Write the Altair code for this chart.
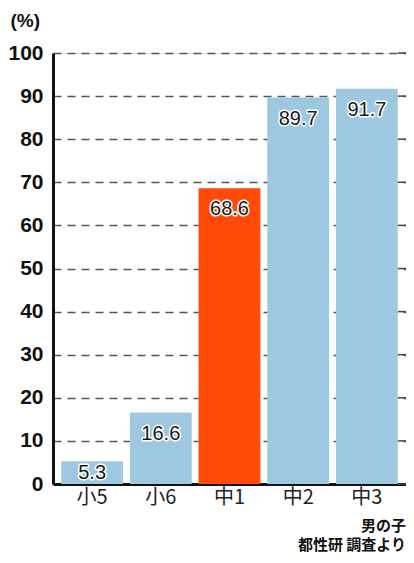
import altair as alt
import pandas as pd

categories = ["小5", "小6", "中1", "中2", "中3"]
values = [5.3, 16.6, 68.6, 89.7, 91.7]
highlight = ["no", "no", "yes", "no", "no"]
y_ticks = [0, 10, 20, 30, 40, 50, 60, 70, 80, 90, 100]
footer_lines = ["男の子", "都性研 調査より"]

df = pd.DataFrame({"cat": categories, "value": values, "hl": highlight})
ticks_df = pd.DataFrame({"t": y_ticks})

xs = alt.X("cat:N", sort=categories,
           scale=alt.Scale(paddingInner=0.1, paddingOuter=0.12),
           axis=alt.Axis(title=None, labelAngle=0, labelFont="Noto Sans CJK JP",
                         labelFontSize=20, labelColor="#222", labelPadding=3,
                         ticks=False, domainColor="#111", domainWidth=3))
ys = alt.Y("value:Q", scale=alt.Scale(domain=[0, 100], nice=False),
           axis=alt.Axis(values=y_ticks, title="(%)", titleAngle=0, titleAlign="left",
                         titleBaseline="alphabetic",
                         titleX=-43, titleY=-27, titleFont="Liberation Sans",
                         titleFontSize=19, titleFontWeight="bold", titleColor="#111",
                         labelFont="Liberation Sans",
                         labelFontSize=21, labelFontWeight="bold", labelColor="#111",
                         labelPadding=10, ticks=False, domainColor="#111", domainWidth=3,
                         grid=True, gridColor="#555", gridDash=[8, 6], gridWidth=1.5))

bars = alt.Chart(df).mark_bar().encode(
    x=xs, y=ys,
    color=alt.Color("hl:N", scale=alt.Scale(domain=["no", "yes"], range=["#9EC8E0", "#FF4A0A"]), legend=None),
)

base_text = alt.Chart(df).transform_calculate(
    lab="datum.value < 8 ? datum.value / 2 : datum.value - 4.9"
)
halo = base_text.mark_text(font="Liberation Sans", fontSize=20, baseline="middle",
                           stroke="white", strokeWidth=3, strokeJoin="round", color="white").encode(
    x=alt.X("cat:N", sort=categories), y=alt.Y("lab:Q"), text=alt.Text("value:Q", format=".1f"))
txt = base_text.mark_text(font="Liberation Sans", fontSize=20, baseline="middle", color="#1a1a1a").encode(
    x=alt.X("cat:N", sort=categories), y=alt.Y("lab:Q"), text=alt.Text("value:Q", format=".1f"))

right_ticks = alt.Chart(ticks_df).mark_rule(color="#444", strokeWidth=1.5).encode(
    y=alt.Y("t:Q"), x=alt.value(345), x2=alt.value(353))

foot1 = alt.Chart(pd.DataFrame({"s": [footer_lines[0]]})).mark_text(
    font="Noto Sans CJK JP", fontSize=15, fontWeight="bold", color="#111",
    align="right", baseline="alphabetic").encode(
    text="s:N", x=alt.value(353), y=alt.value(478))
foot2 = alt.Chart(pd.DataFrame({"s": [footer_lines[1]]})).mark_text(
    font="Noto Sans CJK JP", fontSize=15, fontWeight="bold", color="#111",
    align="right", baseline="alphabetic").encode(
    text="s:N", x=alt.value(353), y=alt.value(497))

chart = alt.layer(bars, right_ticks, halo, txt, foot1, foot2).properties(
    width=353, height=431,
    autosize=alt.AutoSizeParams(type="none"),
    padding={"left": 45, "top": 45, "right": 0, "bottom": 71},
).configure_view(fill="#FCE4F1", stroke="#777", strokeWidth=1.5).configure(background="white")

chart.save("out.html", embed_options={"renderer": "svg", "actions": False})
